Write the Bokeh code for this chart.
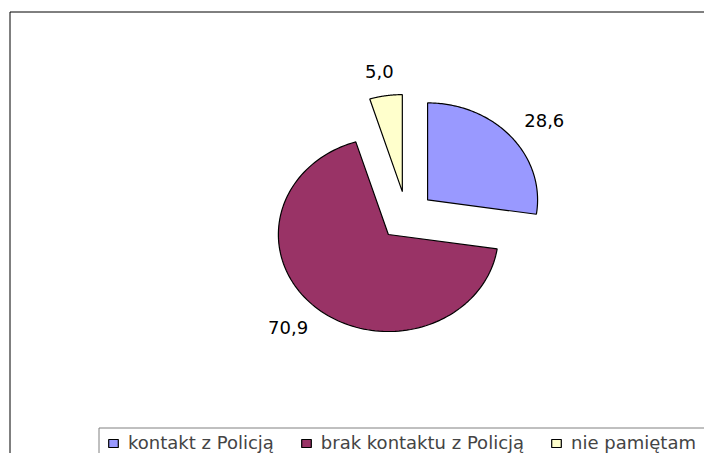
import numpy as np
from bokeh.plotting import figure
from bokeh.models import ColumnDataSource, Range1d, Legend, LegendItem
from bokeh.core.properties import value
from bokeh.embed import file_html
from bokeh.resources import INLINE

# ---- data ----
categories = ["kontakt z Policją", "brak kontaktu z Policją", "nie pamiętam"]
values = [28.6, 70.9, 5.0]
value_labels = ["28,6", "70,9", "5,0"]
colors = ["#9999FF", "#993366", "#FFFFCC"]

# ---- layout ----
W, H = 704, 453
CX, CY = 406, 237.6      # pie centre (px)
RX, RY = 110, 97         # ellipse radii (px)
EXPLODE = 0.253          # explosion fraction of radius
LAB_DX, LAB_DY = 44, 25  # label offset beyond the rim (px)
FONT = "DejaVu Sans"

total = float(sum(values))
xs, ys, lx, ly = [], [], [], []
start = np.pi / 2
for v in values:
    sweep = 2 * np.pi * v / total
    a0, a1 = start, start - sweep
    mid = (a0 + a1) / 2
    ox = CX + EXPLODE * RX * np.cos(mid)
    oy = CY + EXPLODE * RY * np.sin(mid)
    t = np.linspace(a0, a1, 120)
    xs.append([ox] + list(ox + RX * np.cos(t)))
    ys.append([oy] + list(oy + RY * np.sin(t)))
    lx.append(ox + (RX + LAB_DX) * np.cos(mid))
    ly.append(oy + (RY + LAB_DY) * np.sin(mid))
    start = a1

p = figure(width=W, height=H, x_range=Range1d(0, W), y_range=Range1d(0, H),
           output_backend="svg", toolbar_location=None, min_border=0,
           x_axis_type=None, y_axis_type=None)
p.grid.visible = False
p.outline_line_color = None
p.background_fill_color = "white"

# outer frame (top & left) and legend box (top & left)
p.segment(x0=[9.5, 9.5], y0=[441.5, 441.5], x1=[W, 9.5], y1=[441.5, 0],
          line_color="black", line_width=1)
p.segment(x0=[98.5, 98.5], y0=[25.5, 25.5], x1=[W, 98.5], y1=[25.5, 0],
          line_color="#808080", line_width=1)

src = ColumnDataSource(dict(xs=xs, ys=ys, color=colors, cat=categories))
r = p.patches("xs", "ys", source=src, fill_color="color",
              line_color="black", line_width=1.2)

p.text(x=lx, y=ly, text=value_labels, text_font=value(FONT),
       text_font_size="18px", text_align="center", text_baseline="middle",
       text_color="black")

legend = Legend(items=[LegendItem(label=c, renderers=[r], index=i)
                       for i, c in enumerate(categories)],
                orientation="horizontal", location=(107, 0),
                label_text_font=FONT, label_text_font_size="18px",
                glyph_width=12, glyph_height=10, label_standoff=9,
                spacing=26, padding=0, margin=0, label_height=16,
                border_line_color=None, background_fill_alpha=0)
p.add_layout(legend)

open("out.html", "w").write(file_html(p, INLINE))
